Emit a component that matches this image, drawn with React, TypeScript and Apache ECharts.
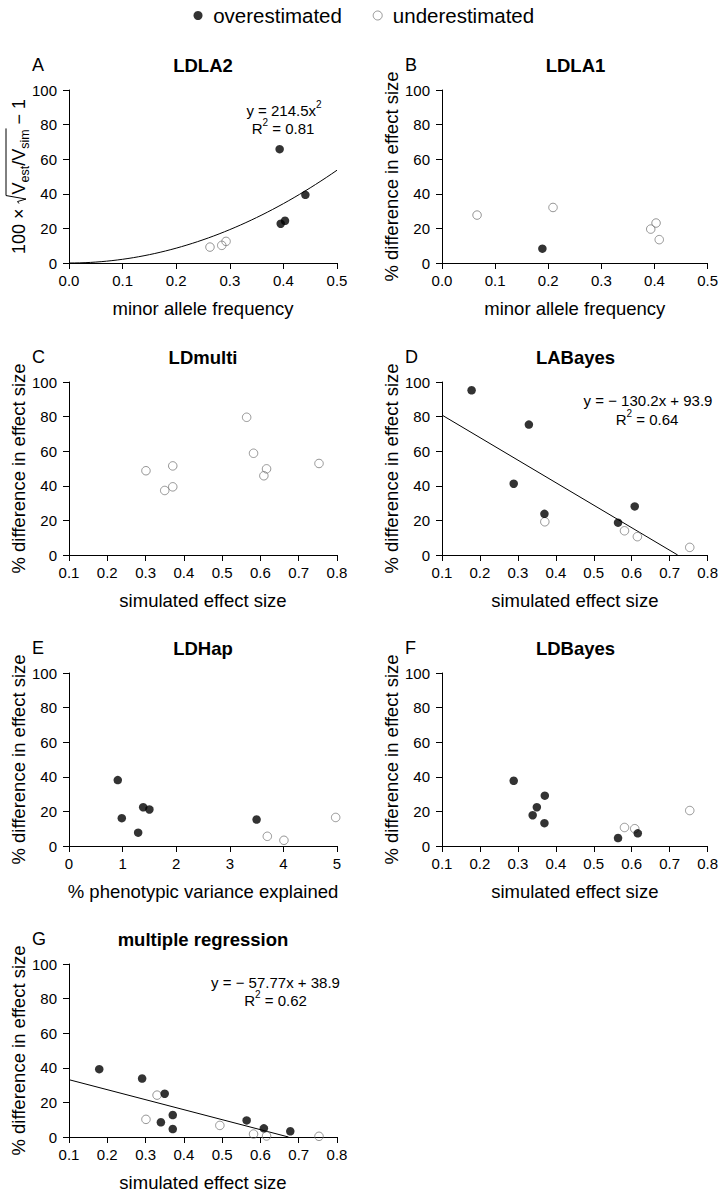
import React, { useEffect, useRef } from 'react';
import * as echarts from 'echarts';

const FONT = '"Liberation Sans", Arial, Helvetica, sans-serif';

// ---------- data ----------
const legendNames = ['overestimated', 'underestimated'];
const panelLetters = ['A', 'B', 'C', 'D', 'E', 'F', 'G'];
const panelTitles = ['LDLA2', 'LDLA1', 'LDmulti', 'LABayes', 'LDHap', 'LDBayes', 'multiple regression'];
const xTitles = [
  'minor allele frequency',
  'minor allele frequency',
  'simulated effect size',
  'simulated effect size',
  '% phenotypic variance explained',
  'simulated effect size',
  'simulated effect size',
];
const yTitle = '% difference in effect size';
// [min, max, interval] of x axes
const xRanges = [
  [0, 0.5, 0.1],
  [0, 0.5, 0.1],
  [0.1, 0.8, 0.1],
  [0.1, 0.8, 0.1],
  [0, 5, 1],
  [0.1, 0.8, 0.1],
  [0.1, 0.8, 0.1],
];
const yRange = [0, 100, 20];

// A  LDLA2
const aOverX = [0.393, 0.395, 0.403, 0.441];
const aOverY = [65.8, 22.7, 24.4, 39.4];
const aUnderX = [0.263, 0.285, 0.293];
const aUnderY = [9.2, 10.2, 12.5];
// B  LDLA1
const bOverX = [0.189];
const bOverY = [8.3];
const bUnderX = [0.066, 0.209, 0.393, 0.403, 0.409];
const bUnderY = [27.7, 32.1, 19.6, 23.1, 13.5];
// C  LDmulti
const cOverX: number[] = [];
const cOverY: number[] = [];
const cUnderX = [0.301, 0.35, 0.371, 0.371, 0.564, 0.582, 0.609, 0.616, 0.753];
const cUnderY = [48.7, 37.3, 51.5, 39.4, 79.6, 58.8, 45.8, 49.8, 52.9];
// D  LABayes
const dOverX = [0.178, 0.289, 0.329, 0.37, 0.564, 0.608];
const dOverY = [95.2, 41.2, 75.4, 23.8, 18.7, 28.1];
const dUnderX = [0.371, 0.581, 0.615, 0.753];
const dUnderY = [19.2, 14.0, 10.6, 4.4];
// E  LDHap
const eOverX = [0.91, 0.985, 1.29, 1.384, 1.5, 3.5];
const eOverY = [38.1, 16.1, 7.7, 22.4, 21.1, 15.3];
const eUnderX = [3.7, 4.01, 4.975];
const eUnderY = [5.6, 3.3, 16.5];
// F  LDBayes
const fOverX = [0.289, 0.339, 0.35, 0.37, 0.371, 0.564, 0.616];
const fOverY = [37.7, 17.8, 22.4, 13.2, 29.1, 4.6, 7.3];
const fUnderX = [0.581, 0.608, 0.753];
const fUnderY = [10.7, 10.0, 20.5];
// G  multiple regression
const gOverX = [0.179, 0.291, 0.34, 0.35, 0.371, 0.371, 0.564, 0.609, 0.678];
const gOverY = [39.2, 33.8, 8.5, 25.0, 12.7, 4.6, 9.6, 5.0, 3.3];
const gUnderX = [0.301, 0.33, 0.494, 0.582, 0.616, 0.753];
const gUnderY = [10.2, 24.2, 6.7, 1.7, 0.6, 0.4];

// fitted models printed on the panels
const fitA = { a: 214.5, r2: '0.81' }; // y = a x^2
const fitD = { slope: -130.2, intercept: 93.9, r2: '0.64' };
const fitG = { slope: -57.77, intercept: 38.9, r2: '0.62' };

const overX = [aOverX, bOverX, cOverX, dOverX, eOverX, fOverX, gOverX];
const overY = [aOverY, bOverY, cOverY, dOverY, eOverY, fOverY, gOverY];
const underX = [aUnderX, bUnderX, cUnderX, dUnderX, eUnderX, fUnderX, gUnderX];
const underY = [aUnderY, bUnderY, cUnderY, dUnderY, eUnderY, fUnderY, gUnderY];

// ---------- layout ----------
const colLeft = [69, 442];
const colWidth = [268, 267];
const rowTop = [90, 382, 673, 964];
const plotH = 173;
const legendFont = 20.5;
const legendCenter = 358;

const zip = (xs: number[], ys: number[]) => xs.map((x, i) => [x, ys[i]]);

let measureCtx: CanvasRenderingContext2D | null = null;
const tw = (t: string, fs: number, bold = false) => {
  if (!measureCtx) measureCtx = document.createElement('canvas').getContext('2d');
  measureCtx!.font = `${bold ? 'bold ' : ''}${fs}px ${FONT}`;
  return measureCtx!.measureText(t).width;
};

type Run = { t: string; fs: number; dy?: number };
const runLine = (cx: number, cy: number, runs: Run[]) => {
  const widths = runs.map((r) => tw(r.t, r.fs));
  const total = widths.reduce((s, w) => s + w, 0);
  let x = cx - total / 2;
  const out: any[] = [];
  runs.forEach((r, i) => {
    out.push({
      type: 'text',
      x,
      y: cy + (r.dy || 0),
      style: {
        text: r.t,
        fontSize: r.fs,
        fontFamily: FONT,
        fill: '#000',
        textAlign: 'left',
        textVerticalAlign: 'middle',
      },
    });
    x += widths[i];
  });
  return out;
};

const fmtNum = (v: number) => Math.abs(v).toString();

function buildYNameA(cxBaseline: number, cyCenter: number) {
  const fs = 18;
  const fsSub = 12.5;
  const pieces: { t: string; fs: number; dy: number; over: boolean }[] = [
    { t: '100 × ', fs, dy: 0, over: false },
    { t: '', fs, dy: 0, over: false }, // radical placeholder
    { t: 'V', fs, dy: 0, over: true },
    { t: 'est', fs: fsSub, dy: 4, over: true },
    { t: '/', fs, dy: 0, over: true },
    { t: 'V', fs, dy: 0, over: true },
    { t: 'sim', fs: fsSub, dy: 4, over: true },
    { t: ' − 1', fs, dy: 0, over: false },
  ];
  const radW = 9;
  const children: any[] = [];
  let x = 0;
  let overStart = 0;
  let overEnd = 0;
  pieces.forEach((p, i) => {
    if (i === 1) {
      children.push({
        type: 'polyline',
        shape: {
          points: [
            [x, -6],
            [x + 2, -7.5],
            [x + 4.5, 1],
            [x + radW - 1, -19],
          ],
        },
        style: { stroke: '#000', lineWidth: 1, fill: 'none' },
      });
      overStart = x + radW - 1;
      x += radW;
      return;
    }
    const w = tw(p.t, p.fs);
    children.push({
      type: 'text',
      x,
      y: p.dy - 0.35 * p.fs,
      style: {
        text: p.t,
        fontSize: p.fs,
        fontFamily: FONT,
        fill: '#000',
        textAlign: 'left',
        textVerticalAlign: 'middle',
      },
    });
    x += w;
    if (p.over) overEnd = x + 1;
  });
  children.push({
    type: 'line',
    shape: { x1: overStart, y1: -19, x2: overEnd, y2: -19 },
    style: { stroke: '#000', lineWidth: 1 },
  });
  const total = x;
  return {
    type: 'group',
    x: cxBaseline,
    y: cyCenter + total / 2,
    rotation: Math.PI / 2,
    children,
  };
}

function buildOption() {
  const grid: any[] = [];
  const xAxis: any[] = [];
  const yAxis: any[] = [];
  const series: any[] = [];
  const graphic: any[] = [];

  for (let i = 0; i < 7; i++) {
    const col = i % 2;
    const row = Math.floor(i / 2);
    const left = colLeft[col];
    const width = colWidth[col];
    const top = rowTop[row];
    grid.push({ left, top, width, height: plotH, containLabel: false });
    const [xmin, xmax, xint] = xRanges[i];
    xAxis.push({
      type: 'value',
      gridIndex: i,
      min: xmin,
      max: xmax,
      interval: xint,
      name: xTitles[i],
      nameLocation: 'middle',
      nameGap: 36,
      nameTextStyle: { fontSize: 18.5, color: '#000', fontFamily: FONT },
      axisLine: { show: true, onZero: false, lineStyle: { color: '#000', width: 1 } },
      axisTick: { show: true, inside: false, length: 6, lineStyle: { color: '#000', width: 1 } },
      axisLabel: {
        fontSize: 15,
        color: '#000',
        fontFamily: FONT,
        margin: 10,
        formatter: (v: number) => (xint < 1 ? v.toFixed(1) : String(Math.round(v))),
      },
      splitLine: { show: false },
    });
    yAxis.push({
      type: 'value',
      gridIndex: i,
      min: yRange[0],
      max: yRange[1],
      interval: yRange[2],
      name: i === 0 ? '' : yTitle,
      nameLocation: 'middle',
      nameGap: 40,
      nameTextStyle: { fontSize: 18.5, color: '#000', fontFamily: FONT },
      axisLine: { show: true, onZero: false, lineStyle: { color: '#000', width: 1 } },
      axisTick: { show: true, inside: false, length: 6, lineStyle: { color: '#000', width: 1 } },
      axisLabel: { fontSize: 15, color: '#000', fontFamily: FONT, margin: 12 },
      splitLine: { show: false },
    });

    series.push({
      name: legendNames[1],
      type: 'scatter',
      xAxisIndex: i,
      yAxisIndex: i,
      symbol: 'circle',
      symbolSize: 8.5,
      itemStyle: { color: 'rgba(255,255,255,0)', borderColor: '#7a7a7a', borderWidth: 1 },
      data: zip(underX[i], underY[i]),
      z: 3,
    });
    series.push({
      name: legendNames[0],
      type: 'scatter',
      xAxisIndex: i,
      yAxisIndex: i,
      symbol: 'circle',
      symbolSize: 8.5,
      itemStyle: { color: '#000' },
      data: zip(overX[i], overY[i]),
      z: 4,
    });

    graphic.push({
      type: 'text',
      x: left + width / 2,
      y: top - 25,
      style: {
        text: panelTitles[i],
        fontSize: 18.5,
        fontWeight: 'bold',
        fontFamily: FONT,
        fill: '#000',
        textAlign: 'center',
        textVerticalAlign: 'middle',
      },
    });
    graphic.push({
      type: 'text',
      x: col === 0 ? 32 : 405,
      y: top - 25,
      style: {
        text: panelLetters[i],
        fontSize: 18,
        fontFamily: FONT,
        fill: '#000',
        textAlign: 'left',
        textVerticalAlign: 'middle',
      },
    });
  }

  // fitted curves
  const quadPts: number[][] = [];
  for (let k = 0; k <= 50; k++) {
    const x = (k / 50) * xRanges[0][1];
    quadPts.push([x, fitA.a * x * x]);
  }
  series.push({
    type: 'line', xAxisIndex: 0, yAxisIndex: 0, data: quadPts, showSymbol: false, symbol: 'none',
    lineStyle: { color: '#000', width: 1 }, z: 2, silent: true,
  });
  const linePts = (f: { slope: number; intercept: number }, x0: number) => [
    [x0, f.slope * x0 + f.intercept],
    [-f.intercept / f.slope, 0],
  ];
  series.push({
    type: 'line', xAxisIndex: 3, yAxisIndex: 3, data: linePts(fitD, xRanges[3][0]), showSymbol: false, symbol: 'none',
    lineStyle: { color: '#000', width: 1 }, z: 2, silent: true,
  });
  series.push({
    type: 'line', xAxisIndex: 6, yAxisIndex: 6, data: linePts(fitG, xRanges[6][0]), showSymbol: false, symbol: 'none',
    lineStyle: { color: '#000', width: 1 }, z: 2, silent: true,
  });

  const efs = 15;
  const sup = 10;
  graphic.push(
    ...runLine(284, 110, [
      { t: `y = ${fitA.a}x`, fs: efs },
      { t: '2', fs: sup, dy: -6 },
    ]),
    ...runLine(283, 128, [
      { t: 'R', fs: efs },
      { t: '2', fs: sup, dy: -6 },
      { t: ` = ${fitA.r2}`, fs: efs },
    ]),
    ...runLine(648, 400, [{ t: `y = − ${fmtNum(fitD.slope)}x + ${fitD.intercept}`, fs: efs }]),
    ...runLine(647, 419, [
      { t: 'R', fs: efs },
      { t: '2', fs: sup, dy: -6 },
      { t: ` = ${fitD.r2}`, fs: efs },
    ]),
    ...runLine(275.5, 982, [{ t: `y = − ${fmtNum(fitG.slope)}x + ${fitG.intercept}`, fs: efs }]),
    ...runLine(275.5, 1000, [
      { t: 'R', fs: efs },
      { t: '2', fs: sup, dy: -6 },
      { t: ` = ${fitG.r2}`, fs: efs },
    ]),
  );

  graphic.push(buildYNameA(25, rowTop[0] + plotH / 2));

  // legend laid out like R's horizontal legend: each entry as wide as the longest label
  const iconW = 9;
  const maxT = Math.max(...legendNames.map((n) => tw(n, legendFont)));
  const xchar = 0.134 * maxT;
  const dot1 = legendCenter - maxT - 1.25 * xchar;
  const textPad = Math.max(0, 0.8 * xchar - iconW / 2 - 5);
  const w0 = maxT + 2 * xchar; // entry pitch
  const item1W = iconW + 5 + textPad + tw(legendNames[0], legendFont);
  const legendGap = w0 - item1W;

  return {
    animation: false,
    backgroundColor: '#fff',
    textStyle: { fontFamily: FONT },
    legend: {
      top: 0,
      left: dot1 - iconW / 2,
      itemGap: legendGap,
      itemWidth: iconW,
      itemHeight: 9,
      selectedMode: false,
      textStyle: { fontSize: legendFont, color: '#000', fontFamily: FONT, padding: [0, 0, 0, textPad] },
      data: [
        { name: legendNames[0], icon: 'circle', itemStyle: { color: '#000' } },
        { name: legendNames[1], icon: 'circle', itemStyle: { color: '#fff', borderColor: '#7a7a7a', borderWidth: 1 } },
      ],
    },
    grid,
    xAxis,
    yAxis,
    series,
    graphic,
  };
}

export default function App() {
  const ref = useRef<HTMLDivElement>(null);
  useEffect(() => {
    if (!ref.current) return;
    const chart = echarts.init(ref.current, undefined, { renderer: 'svg' });
    chart.setOption(buildOption() as any);
    return () => chart.dispose();
  }, []);
  return (
    <div
      ref={ref}
      style={{ position: 'absolute', left: 0, top: 0, width: 721, height: 1200, background: '#fff' }}
    />
  );
}
